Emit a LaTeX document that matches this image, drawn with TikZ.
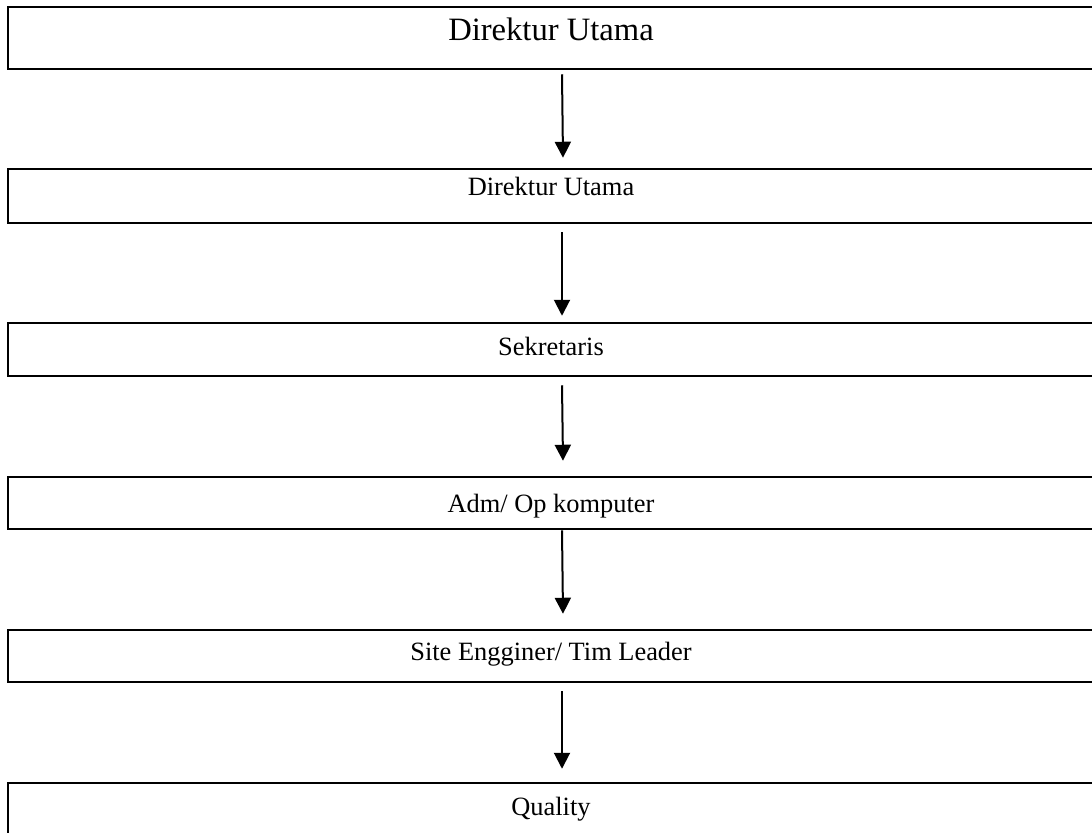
\documentclass[tikz,border=0pt]{standalone}
\usepackage{fontspec}
\setmainfont{Liberation Serif}
\usetikzlibrary{arrows.meta, positioning}

\tikzset{
  box/.style={draw, line width=1.25pt, inner sep=0pt, minimum width=543pt, font=\fontsize{13.2pt}{15pt}\selectfont},
  arr/.style={line width=1pt, -{Triangle[width=8pt,length=8pt]}}
}

\begin{document}
\begin{tikzpicture}[x=0.5pt, y=-0.5pt]
\useasboundingbox (0,0) rectangle (1092,832);

% Top box
\node[box, text height=16.5pt, text depth=14.5pt, font=\fontsize{16.3pt}{19pt}\selectfont] (dirut) at (551,38) {Direktur Utama};

% Second level
\node[box, text height=13pt, text depth=14pt] (dirut2) at (551,196) {Direktur Utama};
\node[box, text height=16pt, text depth=10.5pt] (sekretaris) at (551,349.5) {Sekretaris};
\node[box, text height=17.5pt, text depth=8.5pt] (adm) at (551,503) {Adm/ Op komputer};
\node[box, text height=15pt, text depth=11pt] (site) at (551,656) {Site Engginer/ Tim Leader};
\node[box, text height=16pt, text depth=10pt] (quality) at (551,809) {Quality};

% Arrows
\draw[arr] ([xshift=5.5pt,yshift=-2pt]dirut.south) -- ([xshift=6pt,yshift=5pt]dirut2.north);
\draw[arr] ([xshift=5.5pt,yshift=-4pt]dirut2.south) -- ([xshift=5.5pt,yshift=3pt]sekretaris.north);
\draw[arr] ([xshift=5.5pt,yshift=-4pt]sekretaris.south) -- ([xshift=6pt,yshift=7.5pt]adm.north);
\draw[arr] ([xshift=5.5pt]adm.south) -- ([xshift=6pt,yshift=7.5pt]site.north);
\draw[arr] ([xshift=5.5pt,yshift=-4pt]site.south) -- ([xshift=5.5pt,yshift=6.5pt]quality.north);
\end{tikzpicture}
\end{document}
